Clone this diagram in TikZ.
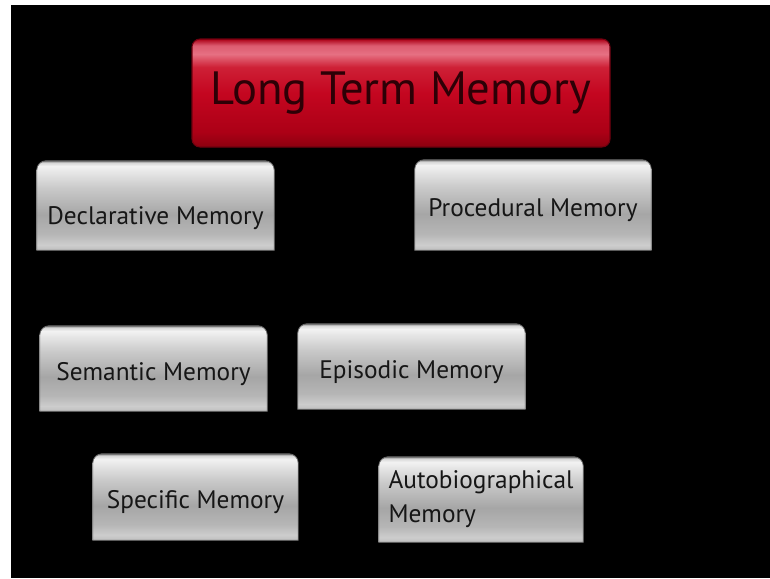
\documentclass[tikz,border=0pt]{standalone}
\usepackage{fontspec}
\setmainfont{PT Sans}
\usepackage{xcolor}
\usepackage{tikz}
\usetikzlibrary{positioning,backgrounds}
\definecolor{TabEdge}{RGB}{105,105,105}
\definecolor{TabA}{RGB}{190,190,190}
\definecolor{TabB}{RGB}{205,205,205}
\definecolor{TabC}{RGB}{182,182,182}
\definecolor{TabD}{RGB}{166,166,166}
\definecolor{TabE}{RGB}{202,202,202}
\definecolor{TabF}{RGB}{228,228,228}
\definecolor{TabG}{RGB}{242,242,242}
\definecolor{TabH}{RGB}{212,212,212}
\definecolor{TabText}{RGB}{22,22,22}
\definecolor{LTMEdge}{RGB}{110,0,15}
\definecolor{LTMA}{RGB}{140,0,15}
\definecolor{LTMB}{RGB}{172,0,22}
\definecolor{LTMC}{RGB}{196,6,32}
\definecolor{LTMD}{RGB}{206,32,54}
\definecolor{LTME}{RGB}{230,112,130}
\definecolor{LTMF}{RGB}{220,92,112}
\definecolor{LTMText}{RGB}{45,0,6}
\pgfdeclareverticalshading{tabshade}{100bp}{color(0bp)=(TabA); color(25bp)=(TabA);
  color(28bp)=(TabB); color(34bp)=(TabC); color(45bp)=(TabD); color(60bp)=(TabE);
  color(68bp)=(TabF); color(72bp)=(TabG); color(74bp)=(TabH); color(75bp)=(TabEdge);
  color(100bp)=(TabEdge)}
\pgfdeclareverticalshading{ltmshade}{100bp}{color(0bp)=(LTMA); color(25bp)=(LTMA);
  color(32bp)=(LTMB); color(50bp)=(LTMC); color(62bp)=(LTMD); color(68bp)=(LTME);
  color(72bp)=(LTMF); color(75bp)=(LTMB); color(100bp)=(LTMB)}
% tab outline: rounded top corners, square bottom corners
\newcommand{\tabbox}[1]{%
  \shadedraw[tabface] (#1.south west) -- ([yshift=-7pt]#1.north west)
    arc[start angle=180, end angle=90, radius=7pt] -- ([xshift=-7pt]#1.north east)
    arc[start angle=90, end angle=0, radius=7pt] -- (#1.south east) -- cycle;}

\begin{document}
\begin{tikzpicture}[
    x=0.75pt, y=-0.75pt,
    font=\fontsize{19}{25.5}\selectfont,
    tabface/.style={shading=tabshade, draw=TabEdge, line width=0.6pt},
    memblock/.style={
        inner sep=0pt,
        align=left,
        text=TabText
    },
    oneline/.style={memblock, text height=22.8pt, text depth=5pt},
    ltmblock/.style={
        rounded corners=6pt,
        shading=ltmshade,
        draw=LTMEdge,
        line width=0.8pt,
        inner sep=0pt,
        minimum width=313.5pt,
        minimum height=81pt,
        text=LTMText,
        font=\fontsize{35}{40}\selectfont
    }
]
\useasboundingbox (0,0) rectangle (770,578);

% Top level: the red heading box.
\node[ltmblock] (ltm) at (401,93) {Long Term Memory};

% Second row: the two main branches.
\node[oneline, text height=33pt, minimum width=177.75pt, minimum height=66.75pt] (declarative) at (155.5,205.5) {Declarative Memory};
\node[oneline, minimum width=177pt, minimum height=67.5pt] (procedural) at (533,205) {Procedural Memory};

% Third row: kinds of declarative memory.
\node[oneline, minimum width=170.25pt, minimum height=63.75pt] (semantic) at (153.5,368.5) {Semantic Memory};
\node[oneline, minimum width=170.25pt, minimum height=63.75pt] (episodic) at (411.5,366.5) {Episodic Memory};

% Bottom row.
\node[oneline, minimum width=153.75pt, minimum height=64.5pt] (specific) at (195.5,497) {Specific Memory};
\node[memblock, minimum width=153pt, minimum height=63.75pt] (autobio) at (481,499.5) {Autobiographical\\Memory};

% Slide background and the grey tabs behind the labels.
\begin{scope}[on background layer]
    \fill[white] (0,0) rectangle (770,578);
    \fill[black] (11,5) rectangle (770,578);
    \tabbox{declarative}
    \tabbox{procedural}
    \tabbox{semantic}
    \tabbox{episodic}
    \tabbox{specific}
    \tabbox{autobio}
\end{scope}

\end{tikzpicture}
\end{document}
